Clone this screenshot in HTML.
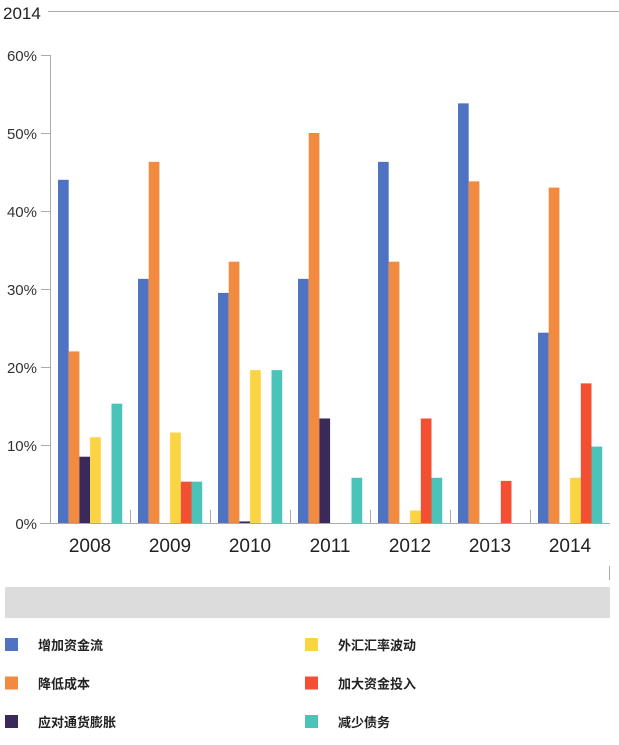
<!DOCTYPE html>
<html><head><meta charset="utf-8"><style>
body{margin:0;background:#fff;width:619px;height:740px;overflow:hidden;font-family:"Liberation Sans","Noto Sans CJK SC",sans-serif}
svg text{font-family:"Liberation Sans","Noto Sans CJK SC",sans-serif}
</style></head><body>
<svg id="chart" width="619" height="740" xmlns="http://www.w3.org/2000/svg">
<text x="3" y="19" font-size="17" fill="#222">2014</text>
<line x1="48" y1="11.5" x2="619" y2="11.5" stroke="#aaa"/>
<g id="axes"></g>
<g id="bars"></g>
<rect x="5" y="587" width="605" height="31" fill="#dcdcdc"/>
<line x1="609.5" y1="566" x2="609.5" y2="580" stroke="#aaa"/>
<g id="legend"></g>
</svg>
<script>
const categories=["2008","2009","2010","2011","2012","2013","2014"];
const seriesNames=["增加资金流","降低成本","应对通货膨胀","外汇汇率波动","加大资金投入","减少债务"];
const sIncrease=[44,31.3,29.5,31.3,46.3,53.8,24.4];
const sReduceCost=[22,46.3,33.5,50,33.5,43.8,43];
const sInflation=[8.5,0,0.2,13.4,0,0,0];
const sFx=[11,11.6,19.6,0,1.6,0,5.8];
const sInvest=[0,5.3,0,0,13.4,5.4,17.9];
const sDebt=[15.3,5.3,19.6,5.8,5.8,0,9.8];
const yTicks=[0,10,20,30,40,50,60];
const series=[sIncrease,sReduceCost,sInflation,sFx,sInvest,sDebt];
const colors=["#4e73c2","#f28a3f","#3a2a5a","#fbd444","#f34f33","#4ac3b8"];
const NS="http://www.w3.org/2000/svg";
const x0=50,gw=80,y0=523,yTop=55;
const yS=v=>y0-(v/60)*(y0-yTop);
const xG=i=>x0+i*gw;
function mk(t,a,p){const e=document.createElementNS(NS,t);for(const k in a)e.setAttribute(k,a[k]);p.appendChild(e);return e;}
const ax=document.getElementById('axes');
const vl=mk('line',{x1:50.5,y1:yTop,x2:50.5,y2:y0,stroke:'#aaa'},ax);


const bl=mk('line',{x1:40,y1:y0+0.5,x2:610,y2:y0+0.5,stroke:'#aaa'},ax);


yTicks.forEach(v=>{
 const y=yS(v);
 const tk=mk('line',{x1:41,y1:y+0.5,x2:50,y2:y+0.5,stroke:'#aaa'},ax);
 
 
 const t=mk('text',{x:37,y:y+6,'text-anchor':'end','font-size':'15',fill:'#333'},ax);
 t.textContent=v+'%';
 
 
});
categories.forEach((c,i)=>{
 if(i>0){const d=mk('line',{x1:xG(i)+0.5,y1:510,x2:xG(i)+0.5,y2:y0,stroke:'#aaa'},ax);
 
 }
 const t=mk('text',{x:xG(i)+40,y:552,'text-anchor':'middle','font-size':'19',fill:'#222'},ax);
 t.textContent=c;
 
 
});
const bg=document.getElementById('bars');
const bw=10.7;
series.forEach((s,si)=>{
 s.forEach((v,i)=>{
  if(v<=0)return;
  const y=yS(v);
  const r=mk('rect',{x:xG(i)+8+si*bw,y:y,width:bw,height:y0-y,fill:colors[si]},bg);
  
  
 });
});
const lg=document.getElementById('legend');
seriesNames.forEach((n,i)=>{
 const col=i<3?0:1,row=i%3;
 const x=col?305:5,y=638+row*38.5;
 const sq=mk('rect',{x:x,y:y,width:13,height:13,fill:colors[i]},lg);
 
 
 const t=mk('text',{x:x+33,y:y+12,'font-size':'13','font-weight':'bold',fill:'#222'},lg);
 t.textContent=n;
 
 
});
</script>
</body></html>
